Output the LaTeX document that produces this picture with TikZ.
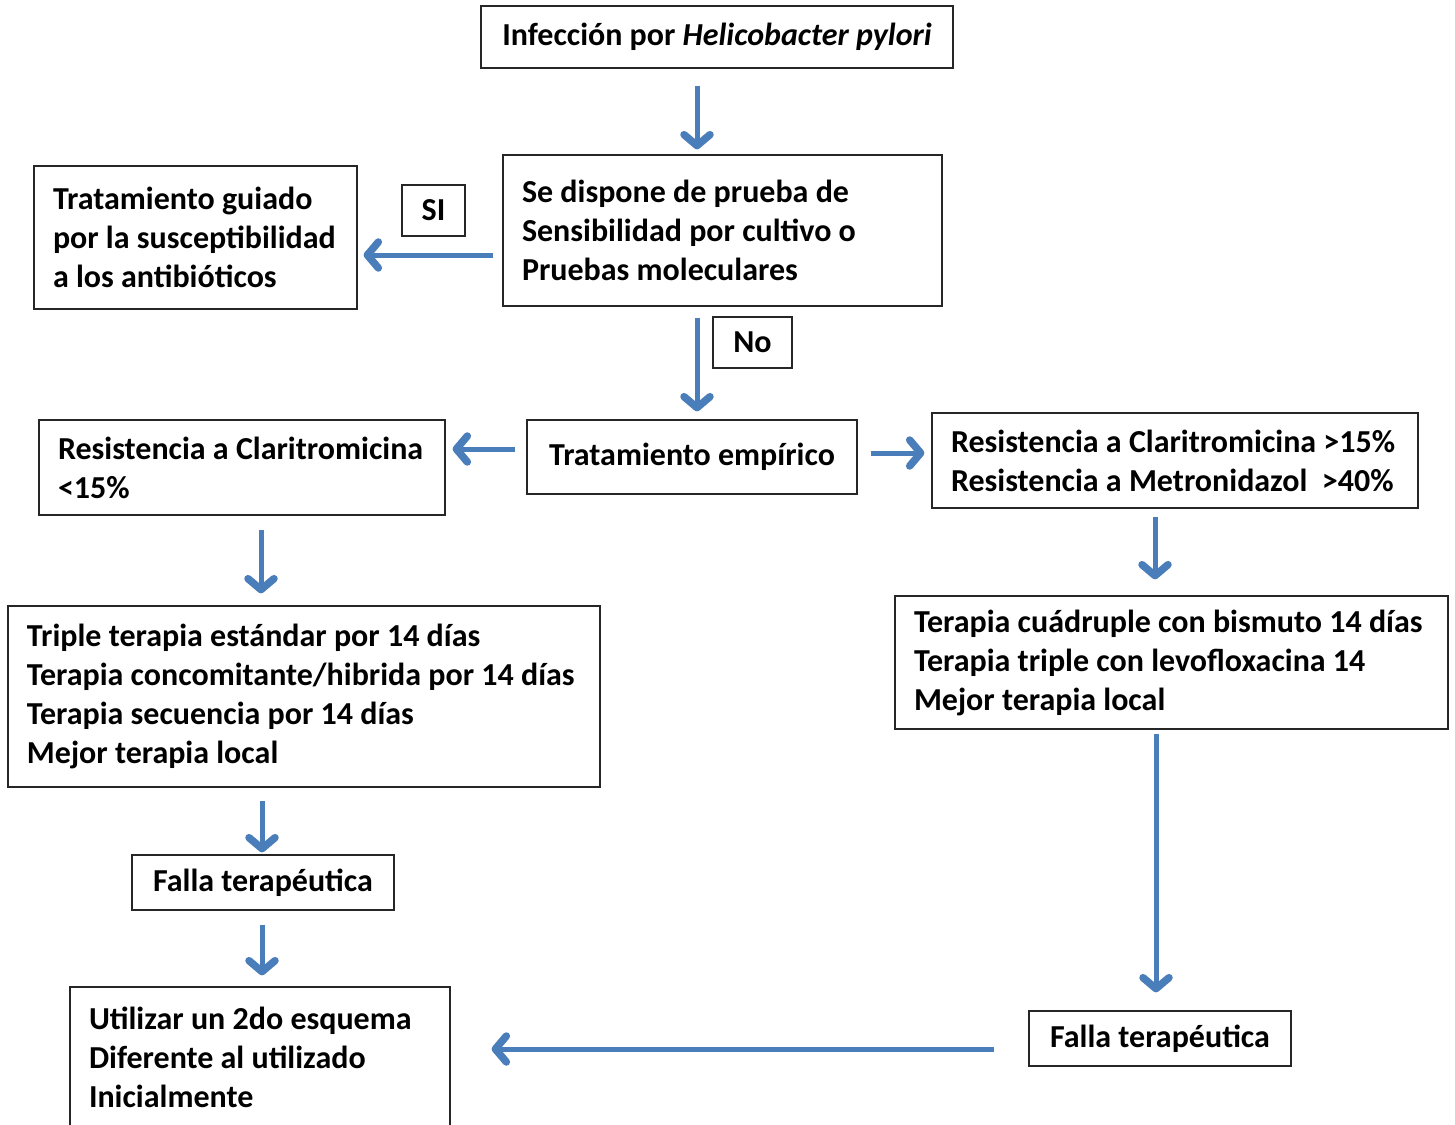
\documentclass[tikz,border=0pt]{standalone}
\usepackage{fontspec}
\setmainfont{Carlito}
\usepackage{xcolor}
\usepackage{tikz}
\usetikzlibrary{arrows.meta}

\definecolor{arrowblue}{RGB}{74,126,187}

\begin{document}
\begin{tikzpicture}[
		x=1pt, y=1pt,
		font=\fontsize{32}{39}\selectfont\bfseries,
		box/.style={
			draw=black!85,
			line width=1.2pt,
			inner xsep=19pt,
			inner ysep=0pt,
			align=flush left
		},
		cbox/.style={box,align=center},
		tagbox/.style={box,align=center,inner xsep=0pt},
		arrow/.style={-{Straight Barb[length=11pt,width=26pt,line width=7.5pt,round]},line width=5pt,draw=arrowblue}
	]
	\useasboundingbox (0,0) rectangle (1455,-1124);
	
	\node[cbox,minimum width=472pt,minimum height=62pt] (infect) at (717,-37) {Infección por \textit{Helicobacter pylori}};
	\node[box,text width=401pt,minimum height=151pt] (sens) at (722.5,-230.5) {Se dispone de prueba de\\Sensibilidad por cultivo o\\Pruebas moleculares};
	\node[box,text width=285pt,minimum height=143pt] (guided) at (195.5,-237.5) {Tratamiento guiado\\por la susceptibilidad\\a los antibióticos};
	\node[tagbox,minimum width=63pt,minimum height=51pt] (yes) at (433.5,-210.5) {SI};
	\node[tagbox,minimum width=79pt,minimum height=51pt] (no) at (752.5,-342.5) {No};
	
	\node[cbox,minimum width=330pt,minimum height=74pt] (empiric) at (692,-457) {Tratamiento empírico};
	\node[box,text width=368pt,minimum height=95pt] (resleft) at (242,-467.5) {Resistencia a Claritromicina\\<15\%};
	\node[box,text width=448pt,minimum height=95pt] (resright) at (1175,-460.5) {Resistencia a Claritromicina >15\%\\Resistencia a Metronidazol~~>40\%};
	
	\node[box,text width=554pt,minimum height=181pt] (triple) at (304,-696.5) {Triple terapia estándar por 14 días\\Terapia concomitante/hibrida por 14 días\\Terapia secuencia por 14 días\\Mejor terapia local};
	\node[box,text width=515pt,minimum height=133pt] (quad) at (1171.5,-662.5) {Terapia cuádruple con bismuto 14 días\\Terapia triple con levofloxacina 14\\Mejor terapia local};
	
	\node[cbox,minimum width=262pt,minimum height=55pt] (failleft) at (263,-882.5) {Falla terapéutica};
	\node[cbox,minimum width=262pt,minimum height=55pt] (failright) at (1160,-1038.5) {Falla terapéutica};
	\node[box,text width=342pt,minimum height=140pt] (second) at (260,-1057) {Utilizar un 2do esquema\\Diferente al utilizado\\Inicialmente};
	
	\draw[arrow,shorten <=17pt,shorten >=5pt] ([xshift=-20pt]infect.south) -- ([xshift=-25.5pt]sens.north);
	\draw[arrow,shorten <=9pt,shorten >=6pt] ([yshift=-24.5pt]sens.west) -- ([yshift=-17.5pt]guided.east);
	\draw[arrow,shorten <=11pt,shorten >=8pt] ([xshift=-25.5pt]sens.south) -- ([xshift=5pt]empiric.north);
	\draw[arrow,shorten <=11pt,shorten >=7pt] ([yshift=8pt]empiric.west) -- ([yshift=18.5pt]resleft.east);
	\draw[arrow,shorten <=13pt,shorten >=7pt] ([yshift=4pt]empiric.east) -- ([yshift=7.5pt]resright.west);
	\draw[arrow,shorten <=14pt,shorten >=12pt] ([xshift=19pt]resleft.south) -- ([xshift=-43pt]triple.north);
	\draw[arrow,shorten <=8pt,shorten >=16pt] ([xshift=-20pt]resright.south) -- ([xshift=-16.5pt]quad.north);
	\draw[arrow,shorten <=13pt,shorten >=2pt] ([xshift=-42pt]triple.south) -- ([xshift=-1pt]failleft.north);
	\draw[arrow,shorten <=14pt,shorten >=11pt] ([xshift=-1pt]failleft.south) -- ([xshift=2pt]second.north);
	\draw[arrow,shorten <=4pt,shorten >=18pt] ([xshift=-15.5pt]quad.south) -- ([xshift=-4pt]failright.north);
	\draw[arrow,shorten <=34pt,shorten >=41pt] ([yshift=-10.5pt]failright.west) -- ([yshift=8pt]second.east);
	
\end{tikzpicture}
\end{document}
